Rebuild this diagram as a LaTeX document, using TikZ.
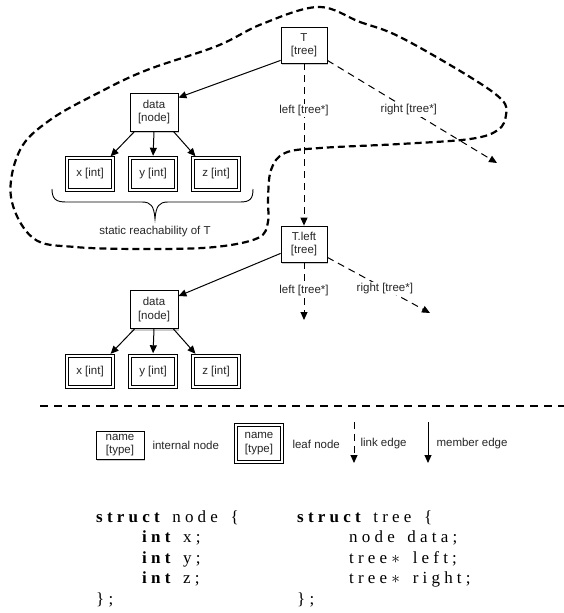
\documentclass[tikz,border=0pt]{standalone}
\usepackage{fontspec}
\setmainfont{Liberation Serif}
\newfontfamily\sansf{Liberation Sans}
\usetikzlibrary{arrows.meta,shadows}

% letter-spaced code text; '|' stands for a word space
\newlength\trk
\setlength\trk{4.2pt}
\def\fcEnd{fc-end-marker}
\def\fc#1{\fcA#1\fcEnd}
\def\fcA#1{\ifx#1\fcEnd\else\ifx#1|\hspace{0.25em}\else#1\fi\kern\trk\expandafter\fcA\fi}
\newcommand\astk{\ensuremath{\ast}}

\begin{document}
\begin{tikzpicture}[x=1pt,y=-1pt,
  lbl/.style={font=\sansf\fontsize{11.5}{13.5}\selectfont, text=black!85},
  softshadow/.style={drop shadow={shadow xshift=0.8pt,shadow yshift=-2pt,fill=black!60,opacity=0.35}},
  inode/.style={lbl, draw, line width=0.8pt, fill=white, minimum width=46pt,
    minimum height=36pt, inner sep=0pt, align=center, softshadow},
  leafnode/.style={lbl, draw, line width=0.9pt, double, double distance=2.4pt,
    fill=white, minimum width=45.5pt, minimum height=31.5pt, inner sep=0pt,
    align=center, softshadow},
  member/.style={line width=1pt, -{Triangle[length=8pt,width=7pt]}},
  link/.style={line width=1pt, dash pattern=on 7pt off 5pt,
    -{Triangle[length=8pt,width=7pt]}},
  elabel/.style={lbl, fill=white, inner sep=1.5pt},
  reach/.style={line width=2.2pt, dash pattern=on 7pt off 4pt},
  code/.style={anchor=base west, inner sep=0pt, font=\fontsize{17}{20}\selectfont}
]
\useasboundingbox (0,0) rectangle (564,613);

% static reachability region of T
\draw[reach] plot[smooth cycle, tension=0.6] coordinates {
  (318,7) (360,22) (400,37) (470,77) (502,100) (506,115) (498,130) (470,139)
  (400,144) (320,148) (285,153) (271,170) (268,200) (268,222) (258,238)
  (215,247) (150,249) (75,247) (33,238) (11,197) (20,150) (50,120)
  (100,92) (147,70) (217,46) (262,24)};

% upper tree
\node[inode] (T) at (304,45) {T\\{[tree]}};
\node[inode, minimum width=48pt, minimum height=38pt] (d1) at (154,112) {data\\{[node]}};
\node[leafnode] (x1) at (90,174) {x [int]};
\node[leafnode] (y1) at (153,174) {y [int]};
\node[leafnode] (z1) at (216,174) {z [int]};

\draw[member] ([yshift=3pt]T.south west) -- ([yshift=-5pt]d1.north east);
\draw[member, shorten >=2pt] ([xshift=5pt]d1.south west) -- ([xshift=-4pt]x1.north east);
\draw[member, shorten >=2pt] (d1.south) -- (y1.north);
\draw[member, shorten >=2pt] ([xshift=-5pt]d1.south east) -- ([xshift=4pt]z1.north west);

% brace under the leaves
\draw[line width=0.9pt] (52,189) .. controls (52,199) and (56,202) .. (66,202)
  -- (142,202) .. controls (151,202) and (154,206) .. (155,219)
  .. controls (156,206) and (159,202) .. (168,202) -- (240,202)
  .. controls (250,202) and (253,199) .. (253,189);
\node[lbl] (reachlbl) at (155,232) {static reachability of T};

% lower tree
\node[inode] (Tl) at (304,244) {T.left\\{[tree]}};
\node[inode, minimum width=48pt, minimum height=38pt] (d2) at (154,309.5) {data\\{[node]}};
\node[leafnode] (x2) at (90,371.5) {x [int]};
\node[leafnode] (y2) at (153,371.5) {y [int]};
\node[leafnode] (z2) at (216,371.5) {z [int]};

\draw[member] ([yshift=9pt]Tl.south west) -- ([yshift=-6pt]d2.north east);
\draw[member, shorten >=2pt] ([xshift=5pt]d2.south west) -- ([xshift=-4pt]x2.north east);
\draw[member, shorten >=2pt] (d2.south) -- (y2.north);
\draw[member, shorten >=2pt] ([xshift=-5pt]d2.south east) -- ([xshift=4pt]z2.north west);

% link edges
\coordinate (TR) at (497,163);
\coordinate (TlL) at (304,320);
\coordinate (TlR) at (430,313);
\draw[link] (T.south) -- node[elabel, pos=0.29] {left [tree*]} (Tl.north);
\draw[link] ([yshift=3pt]T.south east) -- node[elabel, pos=0.48] {right [tree*]} (TR);
\draw[link] (Tl.south) -- node[elabel, pos=0.48] {left [tree*]} (TlL);
\draw[link] ([yshift=5pt]Tl.south east) -- node[elabel, pos=0.56] {right [tree*]} (TlR);

% separator
\coordinate (sepA) at (40,406);
\coordinate (sepB) at (564,406);
\draw[line width=1.1pt, dash pattern=on 8pt off 6pt] (sepA) -- (sepB);

% legend
\node[inode, minimum width=48pt, minimum height=28pt] (lgI) at (120,445) {name\\{[type]}};
\node[lbl, anchor=west] (lgIt) at (149,445) {internal node};
\node[leafnode, minimum height=36.5pt] (lgL) at (259,443.5) {name\\{[type]}};
\node[lbl, anchor=west] (lgLt) at (289,444) {leaf node};
\coordinate (lkA) at (354,422);
\coordinate (lkB) at (354,463);
\draw[link] (lkA) -- (lkB);
\node[lbl, anchor=west] (lkT) at (357,444) {link edge};
\coordinate (mbA) at (428,422);
\coordinate (mbB) at (428,463);
\draw[member] (mbA) -- (mbB);
\node[lbl, anchor=west] (mbT) at (433,444) {member edge};

% type declarations
\node[code] (c1) at (96,522) {\textbf{\fc{struct}}\fc{|node|\{}};
\node[code] (c2) at (142,542.5) {\textbf{\fc{int}}\fc{|x;}};
\node[code] (c3) at (142,563) {\textbf{\fc{int}}\fc{|y;}};
\node[code] (c4) at (142,583.5) {\textbf{\fc{int}}\fc{|z;}};
\node[code] (c5) at (96,604) {\fc{\};}};
\node[code] (t1) at (297,522) {\textbf{\fc{struct}}\fc{|tree|\{}};
\node[code] (t2) at (349,542.5) {\fc{node|data;}};
\node[code] (t3) at (349,563) {\fc{tree\astk|left;}};
\node[code] (t4) at (349,583.5) {\fc{tree\astk|right;}};
\node[code] (t5) at (297,604) {\fc{\};}};
\end{tikzpicture}
\end{document}
